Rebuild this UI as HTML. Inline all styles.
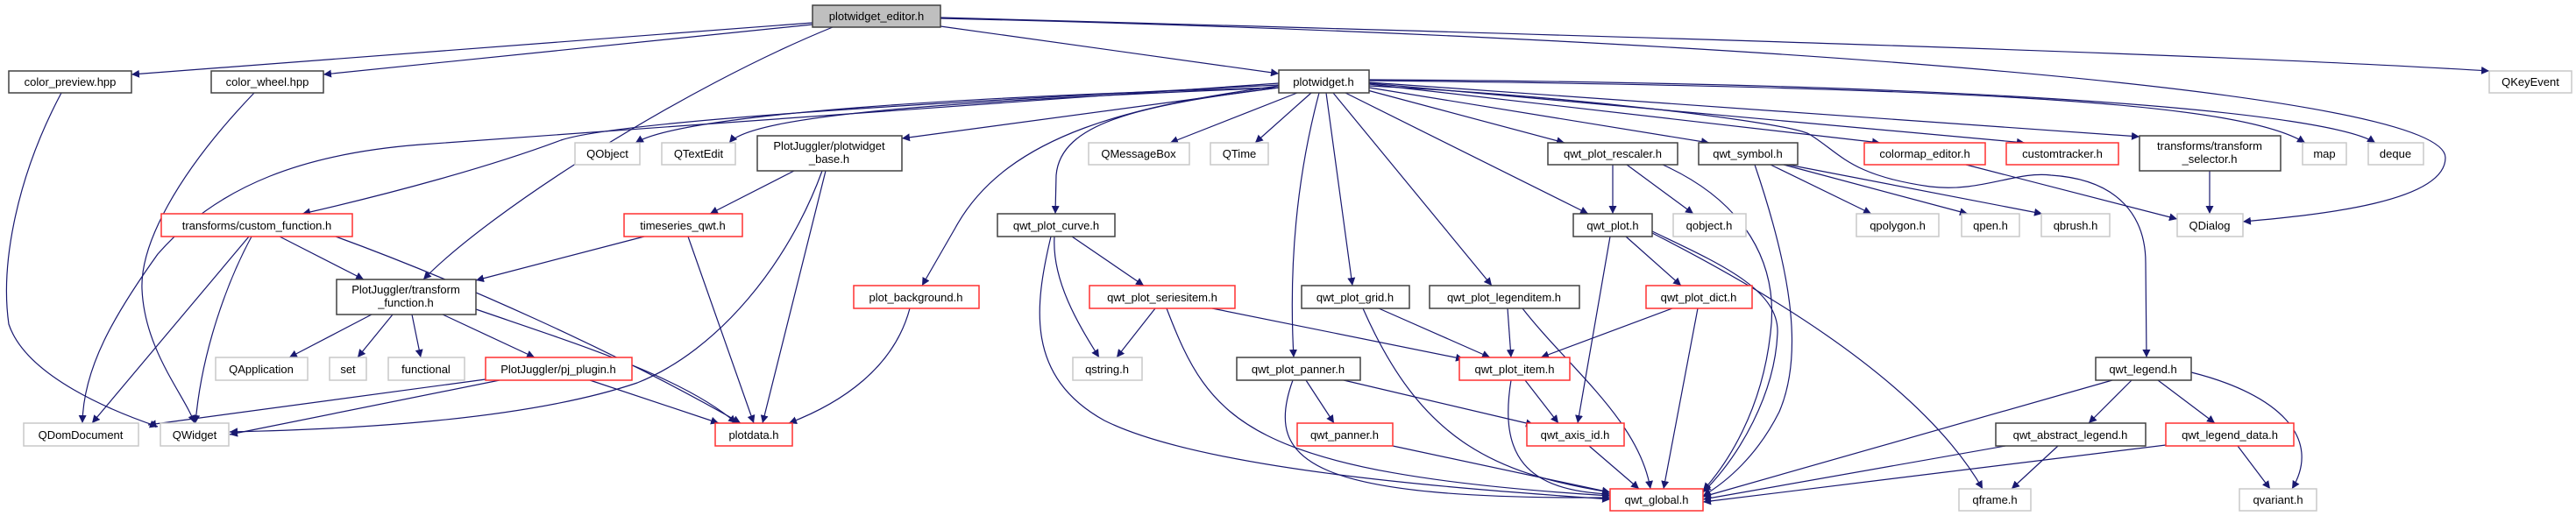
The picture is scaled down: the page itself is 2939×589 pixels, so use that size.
<!DOCTYPE html>
<html><head><meta charset="utf-8"><style>
html,body{margin:0;padding:0;background:#fff;}
svg{display:block;}
text{font-family:"Liberation Sans",sans-serif;font-size:13px;fill:#000;text-anchor:middle;}
.e{fill:none;stroke:#191970;stroke-width:1.2;}
.b{fill:#fff;stroke:#404040;stroke-width:1.5;}
.r{fill:#fff;stroke:#ff3030;stroke-width:1.5;}
.g{fill:#fff;stroke:#c8c8c8;stroke-width:1.5;}
</style></head><body>
<svg width="2939" height="589" viewBox="0 0 2939 589" xmlns="http://www.w3.org/2000/svg">
<defs><marker id="a" viewBox="0 0 10 10" refX="10" refY="5" markerWidth="9" markerHeight="9" orient="auto" markerUnits="userSpaceOnUse"><path d="M0,0 L10,5 L0,10 z" fill="#191970"/></marker></defs>
<g marker-end="url(#a)">
<path class="e" d="M927,26 L150,85"/>
<path class="e" d="M927,28 L369,85"/>
<path class="e" d="M950,31 C780,100 560,240 483,319"/>
<path class="e" d="M1073,30 L1459,84"/>
<path class="e" d="M1073,20 C1800,40 2500,60 2840,81"/>
<path class="e" d="M1073,21 C1900,40 2790,100 2790,180 C2790,230 2650,245 2559,253"/>
<path class="e" d="M70,106 C20,200 0,300 10,370 C30,430 130,470 180,487"/>
<path class="e" d="M290,106 C200,200 160,280 162,330 C165,400 210,450 222,483"/>
<path class="e" d="M1459,95 C1100,120 700,150 480,165 C350,175 250,210 180,290 C130,360 95,420 94,483"/>
<path class="e" d="M1459,97 C1000,120 700,140 640,160 C560,190 450,220 345,244"/>
<path class="e" d="M1459,100 C1100,110 780,130 725,163"/>
<path class="e" d="M1459,100 C1100,115 860,130 832,163"/>
<path class="e" d="M1459,100 L1029,158"/>
<path class="e" d="M1459,98 C1300,120 1150,150 1090,260 L1052,326"/>
<path class="e" d="M1459,100 C1300,120 1210,140 1205,200 L1204,244"/>
<path class="e" d="M1480,106 L1335,163"/>
<path class="e" d="M1496,106 L1432,163"/>
<path class="e" d="M1505,106 C1480,200 1470,300 1476,408"/>
<path class="e" d="M1513,106 L1543,326"/>
<path class="e" d="M1521,106 L1702,326"/>
<path class="e" d="M1535,106 L1812,244"/>
<path class="e" d="M1560,103 L1785,163"/>
<path class="e" d="M1562,100 L1950,163"/>
<path class="e" d="M1562,96 L2145,163"/>
<path class="e" d="M1562,95 L2310,163"/>
<path class="e" d="M1562,94 L2441,156"/>
<path class="e" d="M1562,92 C2300,100 2560,120 2630,163"/>
<path class="e" d="M1562,91 C2300,95 2660,130 2710,163"/>
<path class="e" d="M1562,98 C1800,110 2040,140 2064,153 C2100,175 2110,200 2202,213 C2260,220 2300,195 2340,200 C2420,205 2448,250 2448,300 L2449,408"/>
<path class="e" d="M1840,188 L1840,244"/>
<path class="e" d="M1856,188 L1932,244"/>
<path class="e" d="M1897,188 C1990,230 2030,300 2020,380 C2010,470 1970,530 1943,560"/>
<path class="e" d="M2020,188 L2135,244"/>
<path class="e" d="M2035,188 L2245,244"/>
<path class="e" d="M2040,188 L2330,244"/>
<path class="e" d="M2002,188 C2040,300 2060,400 2030,470 C2005,520 1970,550 1943,566"/>
<path class="e" d="M2243,188 L2484,250"/>
<path class="e" d="M2521,195 L2521,244"/>
<path class="e" d="M1855,270 L1918,326"/>
<path class="e" d="M1837,270 L1800,483"/>
<path class="e" d="M1885,266 C2050,350 2200,450 2262,558"/>
<path class="e" d="M1885,264 C1960,300 2030,330 2028,380 C2025,450 1985,520 1943,562"/>
<path class="e" d="M1203,270 C1200,320 1230,370 1254,408"/>
<path class="e" d="M1223,270 L1305,326"/>
<path class="e" d="M1199,270 C1180,350 1170,430 1260,480 C1380,540 1700,560 1837,570"/>
<path class="e" d="M1318,352 L1274,408"/>
<path class="e" d="M1383,352 L1670,410"/>
<path class="e" d="M1331,352 C1380,480 1420,540 1837,566"/>
<path class="e" d="M1573,352 L1700,408"/>
<path class="e" d="M1555,352 C1620,500 1700,540 1837,562"/>
<path class="e" d="M1720,352 L1724,408"/>
<path class="e" d="M1737,352 C1790,420 1870,480 1883,558"/>
<path class="e" d="M1908,352 L1758,408"/>
<path class="e" d="M1937,352 L1898,558"/>
<path class="e" d="M1490,434 L1522,483"/>
<path class="e" d="M1533,434 L1750,485"/>
<path class="e" d="M1475,434 C1440,530 1500,570 1837,568"/>
<path class="e" d="M1740,434 L1778,483"/>
<path class="e" d="M1724,434 C1710,520 1740,560 1837,564"/>
<path class="e" d="M1589,509 L1837,562"/>
<path class="e" d="M1813,509 L1870,558"/>
<path class="e" d="M2410,434 L1943,567"/>
<path class="e" d="M2432,434 L2383,483"/>
<path class="e" d="M2462,434 L2527,483"/>
<path class="e" d="M2500,425 C2600,450 2650,500 2615,558"/>
<path class="e" d="M2288,509 L1943,570"/>
<path class="e" d="M2348,509 L2295,558"/>
<path class="e" d="M2471,508 L1943,573"/>
<path class="e" d="M2553,509 L2590,558"/>
<path class="e" d="M284,270 L105,483"/>
<path class="e" d="M287,270 C260,320 230,400 223,483"/>
<path class="e" d="M319,270 L415,319"/>
<path class="e" d="M383,270 C520,320 700,400 845,483"/>
<path class="e" d="M735,270 L543,320"/>
<path class="e" d="M785,270 L860,483"/>
<path class="e" d="M906,195 L810,244"/>
<path class="e" d="M938,195 C900,300 820,400 727,437 C600,480 400,490 262,493"/>
<path class="e" d="M942,195 L870,483"/>
<path class="e" d="M424,359 L330,408"/>
<path class="e" d="M448,359 L408,408"/>
<path class="e" d="M470,359 L480,408"/>
<path class="e" d="M505,359 L610,408"/>
<path class="e" d="M543,353 C650,390 780,430 840,483"/>
<path class="e" d="M554,433 L169,485"/>
<path class="e" d="M570,434 L262,496"/>
<path class="e" d="M673,434 L820,483"/>
<path class="e" d="M1038,352 C1020,420 960,460 900,483"/>
</g>
<g>
<rect x="927" y="6" width="146" height="25" fill="#bfbfbf" stroke="#404040" stroke-width="1.5"/><text x="1000" y="23">plotwidget_editor.h</text>
<rect class="b" x="10" y="81" width="140" height="25"/><text x="80" y="98">color_preview.hpp</text>
<rect class="b" x="241" y="81" width="128" height="25"/><text x="305" y="98">color_wheel.hpp</text>
<rect class="b" x="1459" y="80" width="103" height="26"/><text x="1510" y="98">plotwidget.h</text>
<rect class="g" x="2840" y="81" width="94" height="25"/><text x="2887" y="98">QKeyEvent</text>
<rect class="g" x="656" y="163" width="74" height="25"/><text x="693" y="180">QObject</text>
<rect class="g" x="755" y="163" width="84" height="25"/><text x="797" y="180">QTextEdit</text>
<rect class="b" x="864" y="155" width="165" height="40"/><text x="946" y="171">PlotJuggler/plotwidget</text><text x="946" y="186">_base.h</text>
<rect class="g" x="1242" y="163" width="115" height="25"/><text x="1299" y="180">QMessageBox</text>
<rect class="g" x="1381" y="163" width="66" height="25"/><text x="1414" y="180">QTime</text>
<rect class="b" x="1766" y="163" width="148" height="25"/><text x="1840" y="180">qwt_plot_rescaler.h</text>
<rect class="b" x="1938" y="163" width="113" height="25"/><text x="1994" y="180">qwt_symbol.h</text>
<rect class="r" x="2127" y="163" width="138" height="25"/><text x="2196" y="180">colormap_editor.h</text>
<rect class="r" x="2289" y="163" width="128" height="25"/><text x="2353" y="180">customtracker.h</text>
<rect class="b" x="2441" y="155" width="161" height="40"/><text x="2521" y="171">transforms/transform</text><text x="2521" y="186">_selector.h</text>
<rect class="g" x="2627" y="163" width="50" height="25"/><text x="2652" y="180">map</text>
<rect class="g" x="2702" y="163" width="63" height="25"/><text x="2733" y="180">deque</text>
<rect class="r" x="184" y="244" width="218" height="26"/><text x="293" y="262">transforms/custom_function.h</text>
<rect class="r" x="712" y="244" width="135" height="26"/><text x="779" y="262">timeseries_qwt.h</text>
<rect class="b" x="1138" y="244" width="134" height="26"/><text x="1205" y="262">qwt_plot_curve.h</text>
<rect class="b" x="1795" y="244" width="90" height="26"/><text x="1840" y="262">qwt_plot.h</text>
<rect class="g" x="1909" y="244" width="83" height="26"/><text x="1950" y="262">qobject.h</text>
<rect class="g" x="2118" y="244" width="94" height="26"/><text x="2165" y="262">qpolygon.h</text>
<rect class="g" x="2238" y="244" width="66" height="26"/><text x="2271" y="262">qpen.h</text>
<rect class="g" x="2329" y="244" width="78" height="26"/><text x="2368" y="262">qbrush.h</text>
<rect class="g" x="2484" y="244" width="75" height="26"/><text x="2521" y="262">QDialog</text>
<rect class="b" x="384" y="319" width="159" height="40"/><text x="463" y="335">PlotJuggler/transform</text><text x="463" y="350">_function.h</text>
<rect class="r" x="974" y="326" width="143" height="26"/><text x="1045" y="344">plot_background.h</text>
<rect class="r" x="1243" y="326" width="166" height="26"/><text x="1326" y="344">qwt_plot_seriesitem.h</text>
<rect class="b" x="1485" y="326" width="123" height="26"/><text x="1546" y="344">qwt_plot_grid.h</text>
<rect class="b" x="1631" y="326" width="171" height="26"/><text x="1716" y="344">qwt_plot_legenditem.h</text>
<rect class="r" x="1878" y="326" width="121" height="26"/><text x="1938" y="344">qwt_plot_dict.h</text>
<rect class="g" x="246" y="408" width="105" height="26"/><text x="298" y="426">QApplication</text>
<rect class="g" x="376" y="408" width="42" height="26"/><text x="397" y="426">set</text>
<rect class="g" x="443" y="408" width="87" height="26"/><text x="486" y="426">functional</text>
<rect class="r" x="554" y="408" width="167" height="26"/><text x="637" y="426">PlotJuggler/pj_plugin.h</text>
<rect class="g" x="1224" y="408" width="79" height="26"/><text x="1263" y="426">qstring.h</text>
<rect class="b" x="1411" y="408" width="141" height="26"/><text x="1481" y="426">qwt_plot_panner.h</text>
<rect class="r" x="1665" y="408" width="126" height="26"/><text x="1728" y="426">qwt_plot_item.h</text>
<rect class="b" x="2391" y="408" width="109" height="26"/><text x="2445" y="426">qwt_legend.h</text>
<rect class="g" x="27" y="483" width="131" height="26"/><text x="92" y="501">QDomDocument</text>
<rect class="g" x="183" y="483" width="78" height="26"/><text x="222" y="501">QWidget</text>
<rect class="r" x="816" y="483" width="88" height="26"/><text x="860" y="501">plotdata.h</text>
<rect class="r" x="1480" y="483" width="109" height="26"/><text x="1534" y="501">qwt_panner.h</text>
<rect class="r" x="1742" y="483" width="111" height="26"/><text x="1797" y="501">qwt_axis_id.h</text>
<rect class="b" x="2277" y="483" width="171" height="26"/><text x="2362" y="501">qwt_abstract_legend.h</text>
<rect class="r" x="2471" y="483" width="146" height="26"/><text x="2544" y="501">qwt_legend_data.h</text>
<rect class="r" x="1837" y="558" width="106" height="25"/><text x="1890" y="575">qwt_global.h</text>
<rect class="g" x="2235" y="558" width="82" height="25"/><text x="2276" y="575">qframe.h</text>
<rect class="g" x="2555" y="558" width="88" height="25"/><text x="2599" y="575">qvariant.h</text>
</g>
</svg>
</body></html>
